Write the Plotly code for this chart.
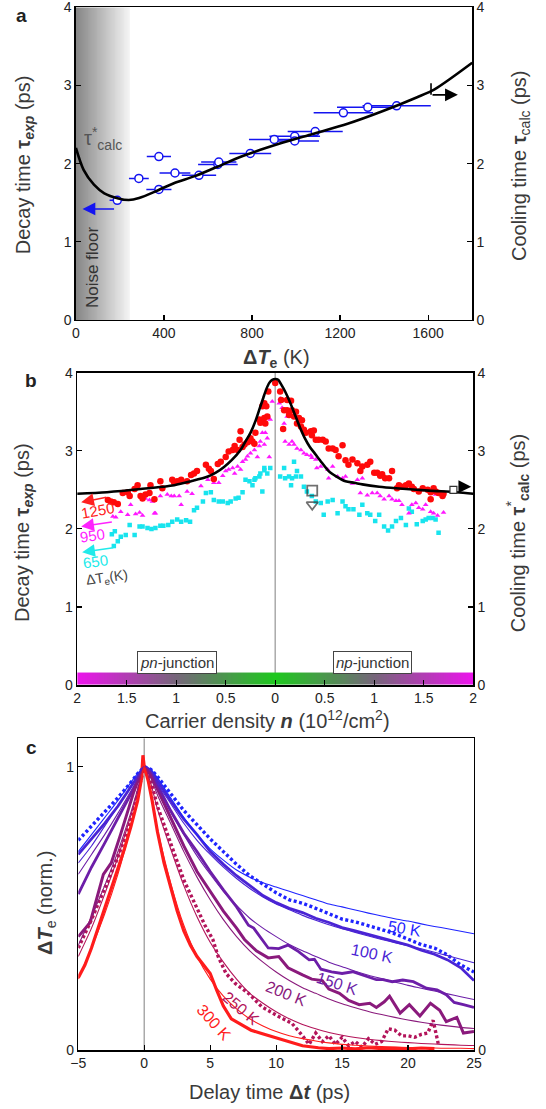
import plotly.graph_objects as go
import numpy as np

FONT = "Liberation Sans, Arial, sans-serif"
TITLE_C = "#3a3a3a"

# ---------------- Panel a data ----------------
a_dT = [188, 286, 377, 377, 450, 559, 645, 649, 792, 901, 994, 994, 1087, 1215, 1326, 1457]
a_tau = [1.53, 1.81, 2.09, 1.67, 1.88, 1.85, 1.99, 2.02, 2.13, 2.31, 2.35, 2.29, 2.41, 2.65, 2.72, 2.74]
a_dT_err = [35, 45, 55, 57, 70, 78, 90, 80, 95, 115, 115, 110, 125, 135, 140, 155]
a_calc_dT = [0, 35, 82, 129, 193, 240, 287, 366, 445, 540, 634, 761, 919, 1076, 1234, 1392, 1550, 1629, 1800]
a_calc_tau = [2.20, 1.92, 1.73, 1.62, 1.555, 1.535, 1.56, 1.65, 1.75, 1.84, 1.95, 2.10, 2.25, 2.38, 2.51, 2.67, 2.85, 2.95, 3.29]

# ---------------- Panel b data ----------------
# negative n = pn-junction side (axis labels show |n|)
b_red_n = [-1.69, -1.66, -1.63, -1.59, -1.54, -1.49, -1.47, -1.42, -1.39, -1.36, -1.34, -1.31, -1.27, -1.26,
           -1.22, -1.16, -1.14, -1.04, -1.02, -0.99, -0.95, -0.89, -0.85, -0.82, -0.79, -0.70, -0.67, -0.65,
           -0.62, -0.58, -0.55, -0.50, -0.47, -0.43, -0.41, -0.38, -0.36, -0.35, -0.33, -0.31, -0.28, -0.25,
           -0.23, -0.21, -0.20, -0.16, -0.15, -0.13, -0.11, -0.11, -0.10, -0.09, -0.08, -0.07,
           0.00, 0.05, 0.06, 0.12, 0.16, 0.09, 0.12, 0.17, 0.21, 0.14, 0.19, 0.24, 0.08, 0.22, 0.27, 0.26,
           0.29, 0.31, 0.36, 0.37, 0.39, 0.41, 0.44, 0.48, 0.51, 0.54, 0.58, 0.61, 0.68, 0.64, 0.71, 0.78,
           0.74, 0.83, 0.88, 0.93, 0.96, 0.86, 1.00, 1.03, 1.06, 1.08, 1.18, 1.11, 1.15, 1.23, 1.25, 1.28,
           1.32, 1.35, 1.38, 1.40, 1.45, 1.49, 1.54, 1.57, 1.60, 1.62, 1.65, 1.69, 1.70, 1.57]
b_red_tau = [2.37, 2.35, 2.34, 2.32, 2.46, 2.47, 2.42, 2.51, 2.56, 2.42, 2.39, 2.44, 2.46, 2.56,
             2.38, 2.61, 2.52, 2.63, 2.59, 2.61, 2.63, 2.61, 2.69, 2.71, 2.74, 2.82, 2.77, 2.74,
             2.64, 2.83, 2.86, 2.92, 2.99, 3.01, 3.06, 3.01, 3.14, 3.25, 3.05, 3.08, 3.11, 3.16,
             3.12, 3.09, 3.23, 3.40, 3.36, 3.57, 3.42, 3.61, 3.35, 3.57, 3.44, 3.76,
             3.87, 3.76, 3.65, 3.65, 3.64, 3.52, 3.52, 3.52, 3.50, 3.46, 3.44, 3.42, 3.28, 3.35, 3.39, 3.31,
             3.27, 3.23, 3.25, 3.20, 3.26, 3.14, 3.14, 3.14, 3.12, 3.03, 3.03, 3.01, 3.07, 2.93, 2.88, 2.89,
             2.82, 2.84, 2.80, 2.82, 2.86, 2.74, 2.72, 2.72, 2.68, 2.70, 2.74, 2.65, 2.65, 2.52, 2.56, 2.54,
             2.56, 2.58, 2.54, 2.51, 2.48, 2.52, 2.50, 2.47, 2.52, 2.48, 2.46, 2.42, 2.45, 2.38]

b_mag_n = [-1.64, -1.61, -1.56, -1.49, -1.46, -1.41, -1.37, -1.34, -1.31, -1.27, -1.24, -1.22, -1.21, -1.16,
           -1.09, -1.05, -1.02, -0.97, -0.95, -0.89, -0.84, -0.75, -0.68, -0.62, -0.57, -0.53, -0.50, -0.47,
           -0.43, -0.41, -0.38, -0.35, -0.33, -0.30, -0.28, -0.25, -0.21, -0.18, -0.16, -0.13, -0.15,
           -0.10, -0.08, -0.11, -0.05, -0.03, -0.06,
           0.05, 0.04, 0.07, 0.12, 0.09, 0.10, 0.14, 0.17, 0.19, 0.22, 0.26, 0.29, 0.32, 0.36, 0.37, 0.41,
           0.42, 0.46, 0.53, 0.58, 0.54, 0.63, 0.68, 0.71, 0.78, 0.83, 0.88, 0.86, 0.93, 0.98, 1.03, 1.06,
           1.10, 1.15, 1.18, 1.22, 1.25, 1.28, 1.35, 1.38, 1.42, 1.45, 1.49, 1.52, 1.57, 1.60, 1.64, 1.70, 1.62]
b_mag_tau = [2.16, 2.15, 2.22, 2.18, 2.31, 2.19, 2.21, 2.17, 2.39, 2.37, 2.35, 2.20, 2.20, 2.42,
             2.44, 2.42, 2.42, 2.42, 2.31, 2.48, 2.45, 2.55, 2.63, 2.59, 2.59, 2.68, 2.74, 2.76,
             2.78, 2.71, 2.80, 2.76, 2.86, 2.89, 2.93, 2.97, 3.01, 2.92, 3.06, 3.23, 3.12,
             3.23, 3.16, 3.08, 3.40, 3.63, 2.92,
             3.67, 3.61, 3.55, 3.44, 3.35, 3.12, 3.08, 3.12, 3.08, 3.03, 3.01, 2.97, 2.95, 2.94, 2.91, 2.89,
             2.78, 2.80, 2.76, 2.80, 2.65, 2.67, 2.65, 2.67, 2.58, 2.63, 2.65, 2.46, 2.43, 2.46, 2.46, 2.42,
             2.38, 2.42, 2.38, 2.36, 2.36, 2.31, 2.20, 2.31, 2.33, 2.27, 2.25, 2.31, 2.22, 2.20, 2.17, 2.21, 2.44]

b_cyan_n = [-1.65, -1.63, -1.62, -1.59, -1.56, -1.51, -1.47, -1.42, -1.37, -1.34, -1.29, -1.25, -1.21, -1.16,
            -1.13, -1.08, -1.04, -0.99, -0.95, -0.90, -0.86, -0.82, -0.79, -0.73, -0.70, -0.65, -0.62, -0.57,
            -0.53, -0.48, -0.45, -0.40, -0.37, -0.33, -0.30, -0.26, -0.23, -0.21, -0.20, -0.16, -0.15, -0.11,
            -0.11, -0.08, -0.05, -0.13,
            0.05, 0.09, 0.10, 0.14, 0.17, 0.19, 0.21, 0.22, 0.26, 0.16, 0.29, 0.32, 0.37, 0.41, 0.49, 0.46,
            0.53, 0.58, 0.63, 0.68, 0.71, 0.74, 0.79, 0.85, 0.88, 0.93, 0.96, 1.01, 1.05, 1.10, 1.14, 1.18,
            1.22, 1.27, 1.32, 1.35, 1.38, 1.43, 1.49, 1.52, 1.55, 1.59, 1.62, 1.65, 1.70]
b_cyan_tau = [1.93, 1.78, 1.97, 1.84, 1.90, 1.92, 2.05, 1.92, 2.03, 2.03, 2.01, 2.00, 2.01, 2.04,
              2.04, 2.05, 2.09, 2.12, 2.09, 2.11, 2.09, 2.24, 2.27, 2.35, 2.46, 2.47, 2.37, 2.35,
              2.35, 2.33, 2.35, 2.39, 2.40, 2.47, 2.63, 2.61, 2.56, 2.63, 2.65, 2.67, 2.71, 2.78,
              2.75, 2.71, 2.78, 2.48,
              2.67, 2.78, 2.65, 2.67, 2.65, 2.86, 2.67, 2.74, 2.67, 2.56, 2.54, 2.48, 2.42, 2.35, 2.18, 2.33,
              2.35, 2.37, 2.20, 2.35, 2.29, 2.25, 2.25, 2.18, 2.31, 2.20, 2.18, 2.10, 2.18, 2.03, 1.98, 2.03,
              2.10, 2.14, 2.05, 2.26, 2.22, 2.06, 2.10, 2.12, 2.14, 2.14, 2.12, 1.95, 2.44]

b_calc_n = [-2.0, -1.7, -1.36, -1.02, -0.85, -0.68, -0.6, -0.52, -0.44, -0.35, -0.3, -0.25, -0.2, -0.16,
            -0.12, -0.09, -0.06, -0.03, 0.0, 0.03, 0.06, 0.1, 0.14, 0.2, 0.25, 0.3, 0.35, 0.41, 0.47, 0.54,
            0.62, 0.71, 0.8, 0.88, 1.05, 1.22, 1.55, 1.83, 2.0]
b_calc_tau = [2.45, 2.47, 2.51, 2.56, 2.61, 2.67, 2.72, 2.79, 2.88, 3.01, 3.12, 3.23, 3.38, 3.53,
              3.68, 3.79, 3.87, 3.91, 3.92, 3.91, 3.85, 3.76, 3.65, 3.46, 3.30, 3.16, 3.05, 2.95, 2.85, 2.74,
              2.67, 2.61, 2.59, 2.57, 2.54, 2.52, 2.49, 2.47, 2.45]
b_open_n = [0.374, 0.374]
b_open_tau = [2.49, 2.31]
b_n_ticks = [-2, -1.5, -1, -0.5, 0, 0.5, 1, 1.5, 2]
b_n_ticktext = ["2", "1.5", "1", "0.5", "0", "0.5", "1", "1.5", "2"]

# ---------------- Panel c data ----------------
c_t = [-5, -4, -3, -2, -1, -0.5, 0, 0.5, 1, 2, 3, 4, 5, 6, 7, 8, 9, 10, 11, 12, 13, 14, 15, 16, 17,
       18, 19, 20, 21, 22, 23, 24, 25]
c50_data = [0.74, 0.79, 0.84, 0.89, 0.945, 0.975, 1.0, 0.99, 0.965, 0.905, 0.845, 0.795, 0.745, 0.70, 0.655,
            0.615, 0.585, 0.555, 0.53, 0.518, 0.50, 0.48, 0.462, 0.452, 0.44, 0.425, 0.41, 0.39, 0.372, 0.36,
            0.335, 0.30, 0.275]
c100_data = [0.69, 0.745, 0.80, 0.86, 0.93, 0.965, 1.0, 0.985, 0.95, 0.88, 0.815, 0.76, 0.70, 0.655, 0.615,
             0.58, 0.545, 0.52, 0.50, 0.485, 0.465, 0.45, 0.432, 0.42, 0.407, 0.394, 0.382, 0.37, 0.352, 0.338,
             0.318, 0.29, 0.245]
c50_fit = [0.70, 0.76, 0.82, 0.88, 0.945, 0.975, 1.0, 0.99, 0.96, 0.89, 0.82, 0.76, 0.71, 0.67, 0.635, 0.61,
           0.59, 0.575, 0.56, 0.545, 0.53, 0.515, 0.505, 0.494, 0.483, 0.473, 0.463, 0.455, 0.445, 0.436,
           0.428, 0.419, 0.41]
c100_fit = [0.66, 0.72, 0.79, 0.86, 0.93, 0.965, 1.0, 0.985, 0.94, 0.87, 0.80, 0.74, 0.69, 0.645, 0.605, 0.57,
            0.54, 0.515, 0.495, 0.475, 0.458, 0.442, 0.428, 0.415, 0.402, 0.39, 0.379, 0.368, 0.357, 0.345,
            0.333, 0.32, 0.308]
c150_fit = [0.62, 0.69, 0.76, 0.835, 0.915, 0.955, 1.0, 0.98, 0.93, 0.84, 0.76, 0.685, 0.62, 0.56, 0.51, 0.465,
            0.43, 0.40, 0.372, 0.35, 0.33, 0.31, 0.294, 0.278, 0.264, 0.252, 0.24, 0.228, 0.218, 0.208, 0.198,
            0.188, 0.178]
c200_fit = [0.37, 0.47, 0.58, 0.70, 0.84, 0.92, 1.0, 0.96, 0.90, 0.80, 0.70, 0.61, 0.53, 0.46, 0.40, 0.35,
            0.31, 0.275, 0.245, 0.22, 0.20, 0.18, 0.163, 0.149, 0.136, 0.125, 0.115, 0.106, 0.098, 0.091,
            0.085, 0.08, 0.076]
c250_fit = [0.33, 0.43, 0.55, 0.68, 0.83, 0.91, 1.0, 0.94, 0.85, 0.71, 0.58, 0.47, 0.38, 0.31, 0.25, 0.20,
            0.165, 0.135, 0.11, 0.09, 0.075, 0.062, 0.052, 0.044, 0.038, 0.033, 0.029, 0.026, 0.023, 0.021,
            0.019, 0.017, 0.016]
c300_fit = [0.25, 0.36, 0.48, 0.62, 0.79, 0.89, 1.0, 0.90, 0.78, 0.59, 0.44, 0.33, 0.25, 0.19, 0.145, 0.11,
            0.085, 0.065, 0.05, 0.04, 0.032, 0.025, 0.02, 0.017, 0.014, 0.012, 0.01, 0.009, 0.008, 0.007,
            0.006, 0.006, 0.005]

c150_t = [-5, -4, -3, -2, -1, -0.5, 0, 0.5, 1, 2, 3, 4, 5, 6, 7, 7.9, 8.3, 8.7, 9.4, 10.2, 10.9, 11.7, 12.5,
          12.9, 13.4, 14.2, 15.0, 15.8, 16.6, 17.6, 18.1, 18.8, 19.6, 20.4, 21.4, 22.2, 22.9, 23.5, 24.2, 25]
c150_data = [0.55, 0.645, 0.73, 0.815, 0.905, 0.95, 1.0, 0.98, 0.935, 0.845, 0.765, 0.70, 0.63, 0.565, 0.505,
             0.44, 0.43, 0.405, 0.36, 0.358, 0.37, 0.347, 0.318, 0.32, 0.285, 0.276, 0.27, 0.276, 0.264, 0.248,
             0.248, 0.241, 0.247, 0.241, 0.218, 0.212, 0.195, 0.168, 0.16, 0.15]
c200_t = [-5, -4.1, -3.1, -2.5, -1.8, -0.8, -0.4, 0, 0.5, 1, 2, 3, 4, 5, 6, 7, 7.6, 8.5, 9.4, 10.2, 10.9, 12.0,
          12.7, 13.5, 14.0, 14.8, 15.5, 16.3, 17.1, 17.6, 18.2, 18.6, 19.4, 20.1, 20.9, 21.7, 22.4, 22.9, 23.7,
          24.2, 25]
c200_data = [0.40, 0.45, 0.62, 0.66, 0.76, 0.91, 0.96, 1.0, 0.97, 0.92, 0.82, 0.72, 0.63, 0.56, 0.49, 0.43,
             0.39, 0.35, 0.325, 0.33, 0.29, 0.265, 0.25, 0.245, 0.215, 0.20, 0.175, 0.16, 0.165, 0.15, 0.17,
             0.19, 0.13, 0.16, 0.12, 0.165, 0.14, 0.10, 0.115, 0.06, 0.065]
c250_t = [-5, -4, -3, -2, -1, -0.5, 0, 0.5, 1, 2, 3, 4, 4.6, 5.2, 5.6, 6.2, 6.9, 7.9, 8.9, 10.2, 11.2, 12.0,
          12.5, 13.0, 13.5, 14.0, 14.5, 15.0, 15.5, 16.0, 16.5, 17.0, 17.5, 18.0, 18.5, 19.0, 19.5, 20.0, 20.5,
          21.0, 21.5, 21.9, 22.3]
c250_data = [0.36, 0.46, 0.57, 0.68, 0.81, 0.90, 1.0, 0.95, 0.86, 0.73, 0.60, 0.50, 0.44, 0.39, 0.33, 0.27,
             0.235, 0.20, 0.153, 0.118, 0.094, 0.05, 0.02, 0.06, 0.03, 0.05, 0.02, 0.045, 0.015, 0.03, 0.01,
             0.04, 0.02, 0.03, 0.075, 0.07, 0.05, 0.05, 0.045, 0.055, 0.06, 0.105, 0.02]
c300_t = [-5, -4.5, -4, -3.5, -3, -2.5, -2, -1.5, -1, -0.5, -0.2, -0.1, 0, 0.3, 0.6, 1, 1.5, 2, 2.5, 3, 3.5,
          4, 4.5, 5, 5.5, 6, 6.6, 7.4, 8.1, 8.9, 9.7, 10.7, 12, 13.2, 14, 15, 16, 17, 18, 19, 20, 21, 22]
c300_data = [0.255, 0.30, 0.36, 0.43, 0.50, 0.57, 0.635, 0.71, 0.79, 0.88, 0.96, 1.04, 1.0, 0.95, 0.88, 0.77,
             0.66, 0.57, 0.49, 0.42, 0.37, 0.33, 0.30, 0.27, 0.21, 0.155, 0.11, 0.087, 0.07, 0.058, 0.047,
             0.035, 0.015, 0.008, 0.005, 0.007, 0.004, 0.008, 0.005, 0.006, 0.004, 0.007, 0.005]
c_labels = ["50 K", "100 K", "150 K", "200 K", "250 K", "300 K"]
c_colors = ["#1f24ff", "#4a24d4", "#6c1ea8", "#8a1a7c", "#b3145a", "#ff1c1c"]

# ---------------- layout geometry ----------------
XA, YA = [0.139, 0.8648], [0.7115, 0.9934]
XB, YB = [0.1414, 0.8667], [0.3823, 0.6639]
XC, YC = [0.1434, 0.8681], [0.0532, 0.3343]

fig = go.Figure()

# Panel a: noise floor gradient
nf_edges = np.linspace(0, 245, 61)
fig.add_trace(go.Heatmap(x=nf_edges, y=[0, 4], z=[np.linspace(0, 1, 60)],
                         colorscale=[[0, "#868686"], [1, "#f4f4f4"]], showscale=False,
                         hoverinfo="skip", xaxis="x", yaxis="y"))
fig.add_trace(go.Scatter(x=a_dT, y=a_tau, mode="markers", xaxis="x", yaxis="y",
                         marker=dict(symbol="circle", size=8, color="white",
                                     line=dict(color="#1414f0", width=1.5)),
                         error_x=dict(type="data", array=a_dT_err, color="#1414f0", thickness=1.5, width=0),
                         hoverinfo="skip"))
fig.add_trace(go.Scatter(x=a_calc_dT, y=a_calc_tau, mode="lines", xaxis="x", yaxis="y2",
                         line=dict(color="black", width=2.6, shape="spline", smoothing=0.8),
                         hoverinfo="skip"))

# Panel b: colour bar along the n axis
bar_edges = np.linspace(-2, 2, 161)
bar_centres = (bar_edges[:-1] + bar_edges[1:]) / 2
fig.add_trace(go.Heatmap(x=bar_edges, y=[0, 0.16], z=[np.abs(bar_centres) / 2],
                         colorscale=[[0, "#1ec81e"], [0.5, "#76667a"], [1, "#ec14ec"]],
                         zmin=0, zmax=1, showscale=False, hoverinfo="skip", xaxis="x2", yaxis="y3"))
fig.add_trace(go.Scatter(x=b_cyan_n, y=b_cyan_tau, mode="markers", xaxis="x2", yaxis="y3",
                         marker=dict(symbol="square", size=4.5, color="#18e4ee"), hoverinfo="skip"))
fig.add_trace(go.Scatter(x=b_mag_n, y=b_mag_tau, mode="markers", xaxis="x2", yaxis="y3",
                         marker=dict(symbol="triangle-up", size=5, color="#ff18ff"), hoverinfo="skip"))
fig.add_trace(go.Scatter(x=b_red_n, y=b_red_tau, mode="markers", xaxis="x2", yaxis="y3",
                         marker=dict(symbol="circle", size=6.5, color="#ff0a0a"), hoverinfo="skip"))
fig.add_trace(go.Scatter(x=b_open_n, y=b_open_tau, mode="markers", xaxis="x2", yaxis="y3",
                         marker=dict(symbol=["square-open", "triangle-down-open"], size=[10, 10],
                                     color="#333333", line=dict(width=1.8)), hoverinfo="skip"))
fig.add_trace(go.Scatter(x=b_calc_n, y=b_calc_tau, mode="lines", xaxis="x2", yaxis="y4",
                         line=dict(color="black", width=2.6, shape="spline", smoothing=0.8),
                         hoverinfo="skip"))

# Panel c: data (thick / dotted) and fits (thin)
data_sets = [(c_t, c50_data, "3px,2.5px", 3.4), (c_t, c100_data, "solid", 2.8),
             (c150_t, c150_data, "solid", 2.8), (c200_t, c200_data, "solid", 3.0),
             (c250_t, c250_data, "3px,2.5px", 3.4), (c300_t, c300_data, "solid", 3.2)]
fits = [c50_fit, c100_fit, c150_fit, c200_fit, c250_fit, c300_fit]
for (tt, yy, dash, w), col in zip(data_sets, c_colors):
    fig.add_trace(go.Scatter(x=tt, y=yy, mode="lines", xaxis="x3", yaxis="y5",
                             line=dict(color=col, width=w, dash=dash), hoverinfo="skip"))
for ff, col in zip(fits, c_colors):
    fig.add_trace(go.Scatter(x=c_t, y=ff, mode="lines", xaxis="x3", yaxis="y6",
                             line=dict(color=col, width=1.1, shape="spline", smoothing=0.7), hoverinfo="skip"))

# ---------------- axes ----------------
tickfont = dict(family=FONT, size=14, color="#222222")
base = dict(showline=True, linecolor="black", linewidth=1.5, ticks="inside", ticklen=5, tickwidth=1.2,
            tickcolor="black", showgrid=False, zeroline=False, tickfont=tickfont, fixedrange=True,
            automargin=False, ticklabeloverflow="allow")

layout_axes = dict(
    xaxis=dict(base, domain=XA, anchor="y", range=[0, 1800], tickvals=[0, 400, 800, 1200, 1600], mirror=True),
    yaxis=dict(base, domain=YA, anchor="x", range=[0, 4], tickvals=[0, 1, 2, 3, 4]),
    yaxis2=dict(base, overlaying="y", side="right", anchor="x", range=[0, 4], tickvals=[0, 1, 2, 3, 4]),
    xaxis2=dict(base, domain=XB, anchor="y3", range=[-2, 2], tickvals=b_n_ticks, ticktext=b_n_ticktext,
                mirror=True),
    yaxis3=dict(base, domain=YB, anchor="x2", range=[0, 4], tickvals=[0, 1, 2, 3, 4]),
    yaxis4=dict(base, overlaying="y3", side="right", anchor="x2", range=[0, 4], tickvals=[0, 1, 2, 3, 4]),
    xaxis3=dict(base, domain=XC, anchor="y5", range=[-5, 25], tickvals=[-5, 0, 5, 10, 15, 20, 25], mirror=True),
    yaxis5=dict(base, domain=YC, anchor="x3", range=[0, 1.1], tickvals=[0, 1]),
    yaxis6=dict(base, overlaying="y5", side="right", anchor="x3", range=[0, 1.1], tickvals=[0],
                ticktext=["0"]),
)

# ---------------- annotations ----------------
ann = []
def txt(text, x, y, size=20, color=TITLE_C, angle=0, xref="paper", yref="paper", **kw):
    ann.append(dict(text=text, x=x, y=y, xref=xref, yref=yref, showarrow=False, textangle=angle,
                    font=dict(family=FONT, size=size, color=color), xanchor=kw.pop("xanchor", "center"),
                    yanchor=kw.pop("yanchor", "middle"), **kw))

def arrow(x, y, ax, ay, xref, yref, color):
    ann.append(dict(x=x, y=y, ax=ax, ay=ay, xref=xref, yref=yref, axref=xref, ayref=yref, text="",
                    showarrow=True, arrowhead=2, arrowsize=1.6, arrowwidth=1.6, arrowcolor=color))

# panel letters
txt("<b>a</b>", 0.0385, 0.9856, size=19, color="#222")
txt("<b>b</b>", 0.0568, 0.657, size=19, color="#222")
txt("<b>c</b>", 0.0568, 0.3264, size=19, color="#222")

# axis titles
ytitle_exp = "Decay time <b>τ</b><sub><b><i>exp</i></b></sub> (ps)"
txt(ytitle_exp, 0.044, 0.851, angle=-90)
txt("Cooling time <b>τ</b><sub>calc</sub> (ps)", 0.952, 0.851, angle=-90)
txt("<b>Δ<i>T</i></b><sub><b>e</b></sub> (K)", 0.5066, 0.677)
txt(ytitle_exp, 0.044, 0.5194, angle=-90)
txt("Cooling time <b>τ</b><sup>*</sup><sub><b>calc</b></sub> (ps)", 0.949, 0.5194, angle=-90)
txt("Carrier density <b><i>n</i></b> (10<sup>12</sup>/cm<sup>2</sup>)", 0.4908, 0.3508)
txt("<b>Δ<i>T</i></b><sub>e</sub> (norm.)", 0.086, 0.1858, angle=-90)
txt("Delay time <b>Δ<i>t</i></b> (ps)", 0.494, 0.0156)

# panel a
txt("Noise floor", 79, 0.68, size=17, color="#333", angle=-90, xref="x", yref="y")
txt("τ<sup>*</sup><sub>calc</sub>", 30, 2.32, size=20, color="#555", xref="x", yref="y", xanchor="left")
arrow(30, 1.42, 180, 1.42, "x", "y", "#1414f0")
arrow(1735, 2.88, 1613, 2.88, "x", "y2", "black")

# panel b
arrow(-1.96, 2.34, -1.69, 2.41, "x2", "y3", "#ff2020")
arrow(-1.96, 2.03, -1.635, 2.09, "x2", "y3", "#ff22ff")
arrow(-1.95, 1.70, -1.62, 1.76, "x2", "y3", "#20eaea")
txt("1250", -1.80, 2.24, size=15, color="#ff2020", angle=-10, xref="x2", yref="y3")
txt("950", -1.85, 1.91, size=15, color="#ff22ff", angle=-8, xref="x2", yref="y3")
txt("650", -1.82, 1.58, size=15, color="#20eaea", angle=-8, xref="x2", yref="y3")
txt("ΔT<sub>e</sub>(K)", -1.70, 1.37, size=14, color="#444", angle=-8, xref="x2", yref="y3")
arrow(1.98, 2.54, 1.84, 2.54, "x2", "y4", "black")
txt("<i>pn</i>-junction", -0.995, 0.29, size=15, color="#333", xref="x2", yref="y3",
    bordercolor="#444", borderwidth=1, borderpad=2, bgcolor="white")
txt("<i>np</i>-junction", 0.98, 0.29, size=15, color="#333", xref="x2", yref="y3",
    bordercolor="#444", borderwidth=1, borderpad=2, bgcolor="white")

# panel c temperature labels
c_lab_pos = [(19.7, 0.43, 9), (17.3, 0.34, 12), (14.6, 0.235, 18), (10.75, 0.198, 22), (7.35, 0.148, 40),
             (5.3, 0.098, 48)]
for lab, (x, y, ang), col in zip(c_labels, c_lab_pos, c_colors):
    txt(lab, x, y, size=16, color=col, angle=ang, xref="x3", yref="y5")

shapes = [
    dict(type="line", xref="x", yref="y2", x0=1613, x1=1613, y0=3.03, y1=2.88,
         line=dict(color="black", width=1.6)),
    dict(type="rect", xref="x2", yref="y4", x0=1.765, x1=1.835, y0=2.455, y1=2.545,
         line=dict(color="#333", width=1.2), fillcolor="white"),
    dict(type="line", xref="x2", yref="y3", x0=0, x1=0, y0=0, y1=4, layer="below",
         line=dict(color="#aaaaaa", width=1.5)),
    dict(type="line", xref="x3", yref="y5", x0=0, x1=0, y0=0, y1=1.1, layer="below",
         line=dict(color="#aaaaaa", width=1.5)),
]

fig.update_layout(width=546, height=1109, margin=dict(l=0, r=0, t=0, b=0, pad=0, autoexpand=False),
                  paper_bgcolor="white", plot_bgcolor="rgba(0,0,0,0)", showlegend=False,
                  font=dict(family=FONT, color="#222"), annotations=ann, shapes=shapes, **layout_axes)

fig.write_html("out.html", config={"displayModeBar": False, "staticPlot": True},
               post_script="document.body.style.margin='0px'; document.body.style.overflow='hidden';")
